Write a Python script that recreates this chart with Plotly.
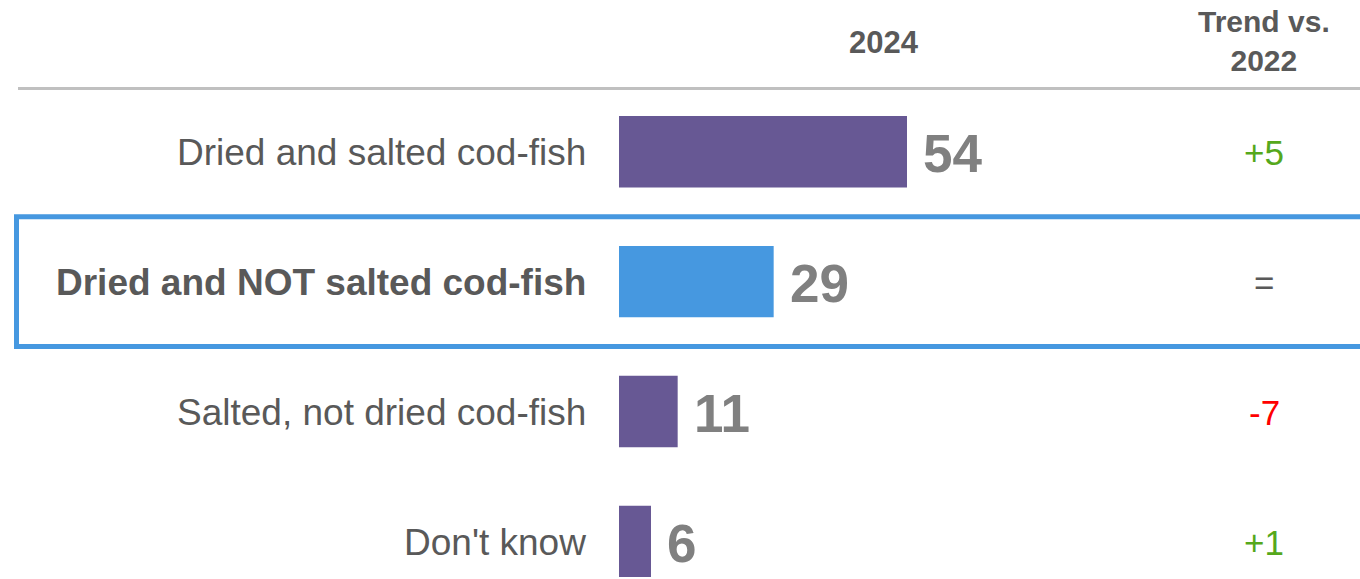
import plotly.graph_objects as go

# Survey results: share of answers in 2024 and change vs. 2022
categories = [
    "Dried and salted cod-fish",
    "Dried and NOT salted cod-fish",
    "Salted, not dried cod-fish",
    "Don't know",
]
values_2024 = [54, 29, 11, 6]
trend_vs_2022 = ["+5", "=", "-7", "+1"]
highlighted = "Dried and NOT salted cod-fish"

PURPLE = "#675894"
BLUE = "#4698e0"
LABEL_GREY = "#595959"
VALUE_GREY = "#808080"
GREEN = "#55a81c"
RED = "#ff0000"
FONT = "Liberation Sans, Arial, sans-serif"

W, H = 1360, 579


def trend_color(t):
    if t.startswith("+"):
        return GREEN
    if t.startswith("-"):
        return RED
    return LABEL_GREY


bar_colors = [BLUE if c == highlighted else PURPLE for c in categories]

fig = go.Figure(
    go.Bar(
        x=values_2024,
        y=categories,
        orientation="h",
        width=0.55,
        marker=dict(color=bar_colors, line=dict(width=0)),
        hoverinfo="skip",
    )
)

annotations = []
for cat, val, tr in zip(categories, values_2024, trend_vs_2022):
    label = f"<b>{cat}</b>" if cat == highlighted else cat
    annotations.append(dict(
        x=-5.8, y=cat, xref="x", yref="y", text=label, showarrow=False,
        xanchor="right", yanchor="middle", yshift=-1,
        font=dict(family=FONT, size=37, color=LABEL_GREY),
    ))
    annotations.append(dict(
        x=val, y=cat, xref="x", yref="y", text=f"<b>{val}</b>", showarrow=False,
        xanchor="left", yanchor="middle", xshift=14, yshift=-2,
        font=dict(family=FONT, size=53, color=VALUE_GREY),
    ))
    annotations.append(dict(
        x=1264 / W, y=cat, xref="paper", yref="y", text=tr, showarrow=False,
        xanchor="center", yanchor="middle", yshift=-1,
        font=dict(family=FONT, size=35, color=trend_color(tr)),
    ))

# Column headers
annotations.append(dict(
    x=884 / W, y=1 - 42 / H, xref="paper", yref="paper", text="<b>2024</b>",
    showarrow=False, xanchor="center", yanchor="middle",
    font=dict(family=FONT, size=31, color=LABEL_GREY),
))
annotations.append(dict(
    x=1264 / W, y=1 - 41 / H, xref="paper", yref="paper",
    text="<b>Trend vs.</b><br><b>2022</b>",
    showarrow=False, xanchor="center", yanchor="middle",
    font=dict(family=FONT, size=30, color=LABEL_GREY),
))

hi = categories.index(highlighted)
shapes = [
    # header rule
    dict(type="line", xref="paper", yref="paper",
         x0=18 / W, x1=1.0, y0=1 - 88.5 / H, y1=1 - 88.5 / H,
         line=dict(color="#c0c0c0", width=3)),
    # frame around the highlighted answer
    dict(type="rect", xref="paper", yref="y",
         x0=16.5 / W, x1=1.01, y0=hi - 0.5, y1=hi + 0.5,
         line=dict(color=BLUE, width=5), fillcolor="rgba(0,0,0,0)",
         layer="below"),
]

px_per_unit = 288 / 54
x_origin = 619
fig.update_layout(
    width=W, height=H,
    margin=dict(l=0, r=0, t=0, b=0),
    paper_bgcolor="white", plot_bgcolor="white",
    showlegend=False,
    xaxis=dict(range=[-x_origin / px_per_unit, (W - x_origin) / px_per_unit],
               visible=False, fixedrange=True),
    yaxis=dict(type="category", categoryorder="array", categoryarray=categories,
               range=[(H - 151.7) / 129.9, -151.7 / 129.9],
               visible=False, fixedrange=True),
    annotations=annotations,
    shapes=shapes,
)

fig.write_html("out.html", config={"displayModeBar": False})
